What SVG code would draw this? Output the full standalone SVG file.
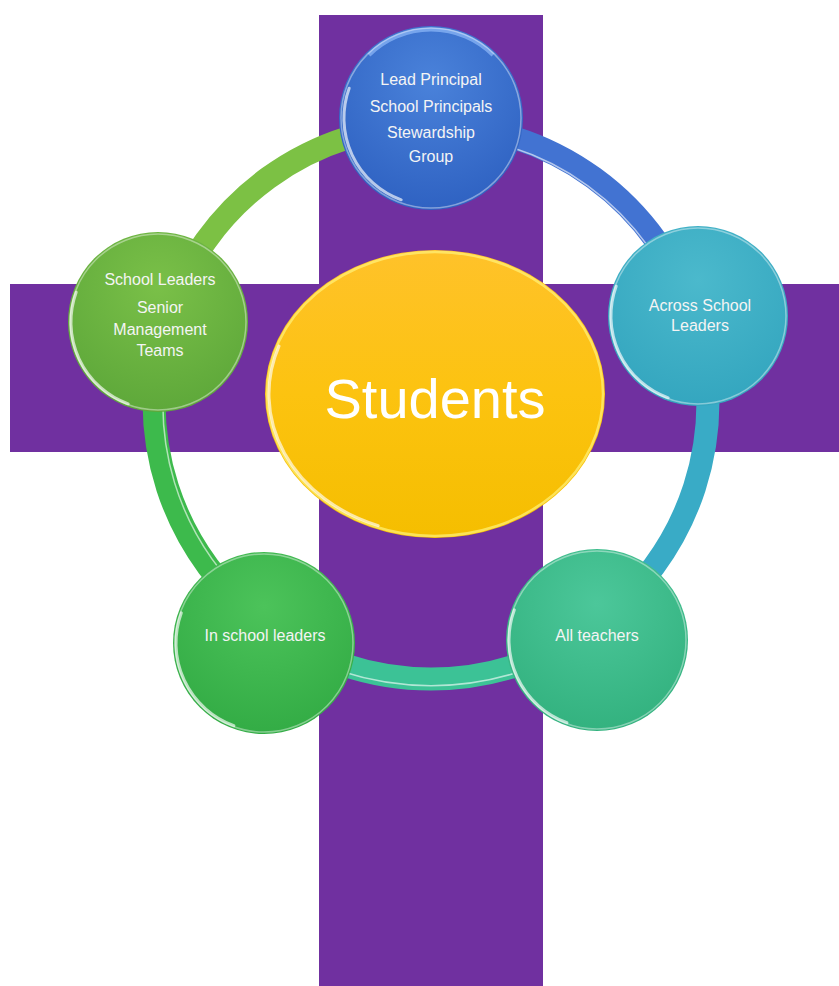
<svg xmlns="http://www.w3.org/2000/svg" width="839" height="986" viewBox="0 0 839 986">
<defs>
  <radialGradient id="gBlue" cx="50%" cy="30%" r="70%">
    <stop offset="0" stop-color="#4A82DA"/><stop offset="1" stop-color="#2F62C2"/>
  </radialGradient>
  <radialGradient id="gLeft" cx="50%" cy="30%" r="70%">
    <stop offset="0" stop-color="#7AC048"/><stop offset="1" stop-color="#5EA83A"/>
  </radialGradient>
  <radialGradient id="gRight" cx="50%" cy="30%" r="70%">
    <stop offset="0" stop-color="#4BB9CC"/><stop offset="1" stop-color="#34A6BF"/>
  </radialGradient>
  <radialGradient id="gBL" cx="50%" cy="30%" r="70%">
    <stop offset="0" stop-color="#4CC35A"/><stop offset="1" stop-color="#33AC45"/>
  </radialGradient>
  <radialGradient id="gBR" cx="50%" cy="30%" r="70%">
    <stop offset="0" stop-color="#4CC79A"/><stop offset="1" stop-color="#33B27F"/>
  </radialGradient>
  <linearGradient id="gGold" x1="0" y1="0" x2="0" y2="1">
    <stop offset="0" stop-color="#FFC22A"/><stop offset="0.5" stop-color="#FCC310"/><stop offset="1" stop-color="#F5BE00"/>
  </linearGradient>
</defs>
<style>
  .bar { fill: #7030A0; }
  .seg { fill: none; stroke-width: 23; }
  .hl { fill: none; stroke: #FFFFFF; stroke-width: 1.5; stroke-opacity: 0.6; }
  .rim { fill: none; stroke: #FFFFFF; stroke-opacity: 0.4; stroke-width: 1.5; }
  .shine { fill: none; stroke: #FFFFFF; stroke-opacity: 0.65; stroke-width: 3; stroke-linecap: round; }
  .lbl { font-family: "Liberation Sans", Arial, sans-serif; font-size: 16px; fill: #F4F4F4; text-anchor: middle; }
  .big { font-family: "Liberation Sans", Arial, sans-serif; font-size: 56px; fill: #FFFFFF; text-anchor: middle; }
</style>

<g id="cross">
  <rect class="bar" x="319" y="15" width="224" height="971"/>
  <rect class="bar" x="10" y="284" width="829" height="168"/>
</g>

<g id="connectors">
  <path class="seg" stroke="#7CC144" d="M 167.6 316.4 A 277 277 0 0 1 431 125"/>
  <path class="seg" stroke="#4273D2" d="M 431 125 A 277 277 0 0 1 694.4 316.4"/>
  <path class="seg" stroke="#39ABC6" d="M 694.4 316.4 A 277 277 0 0 1 593.8 626.1"/>
  <path class="seg" stroke="#3CC296" d="M 593.8 626.1 A 277 277 0 0 1 268.2 626.1"/>
  <path class="seg" stroke="#3DBA4C" d="M 268.2 626.1 A 277 277 0 0 1 167.6 316.4"/>
  <path class="hl" d="M 431 135 A 267 267 0 0 1 685 319"/>
  <path class="hl" d="M 268 617 A 267 267 0 0 1 177 319"/>
  <path class="hl" d="M 597 633 A 288 288 0 0 1 265 633"/>
</g>

<g id="node-students">
  <ellipse cx="435" cy="394" rx="170" ry="144" fill="url(#gGold)"/>
  <ellipse cx="435" cy="394" rx="168" ry="142" fill="none" stroke="#FFF27A" stroke-width="2.5" stroke-opacity="0.7"/>
  <path class="shine" d="M 378.2 525.6 A 166 140 0 0 1 279 346.1"/>
  <text class="big" x="435" y="418">Students</text>
</g>

<g id="node-top">
  <circle cx="431" cy="118" r="92" fill="url(#gBlue)"/>
  <path d="M 369 55 A 88 88 0 0 1 493 55" fill="none" stroke="#9CC4FF" stroke-width="4" stroke-opacity="0.6"/>
  <circle class="rim" cx="431" cy="118" r="90"/>
  <path class="shine" d="M 401.2 199.8 A 87 87 0 0 1 349.2 88.2"/>
  <text class="lbl" x="431" y="85">Lead Principal</text>
  <text class="lbl" x="431" y="112">School Principals</text>
  <text class="lbl" x="431" y="138">Stewardship</text>
  <text class="lbl" x="431" y="162">Group</text>
</g>

<g id="node-left">
  <circle cx="158" cy="322" r="90" fill="url(#gLeft)"/>
  <circle class="rim" cx="158" cy="322" r="88"/>
  <path class="shine" d="M 128.2 403.8 A 87 87 0 0 1 76.2 292.2"/>
  <text class="lbl" x="160" y="285">School Leaders</text>
  <text class="lbl" x="160" y="313">Senior</text>
  <text class="lbl" x="160" y="335">Management</text>
  <text class="lbl" x="160" y="356">Teams</text>
</g>

<g id="node-right">
  <circle cx="698" cy="316" r="90" fill="url(#gRight)"/>
  <circle class="rim" cx="698" cy="316" r="88"/>
  <path class="shine" d="M 668.2 397.8 A 87 87 0 0 1 616.2 286.2"/>
  <text class="lbl" x="700" y="311">Across School</text>
  <text class="lbl" x="700" y="331">Leaders</text>
</g>

<g id="node-bottom-left">
  <circle cx="264" cy="643" r="91" fill="url(#gBL)"/>
  <circle class="rim" cx="264" cy="643" r="89"/>
  <path class="shine" d="M 233.9 725.7 A 88 88 0 0 1 181.3 612.9"/>
  <text class="lbl" x="265" y="641">In school leaders</text>
</g>

<g id="node-bottom-right">
  <circle cx="597" cy="640" r="91" fill="url(#gBR)"/>
  <circle class="rim" cx="597" cy="640" r="89"/>
  <path class="shine" d="M 566.9 722.7 A 88 88 0 0 1 514.3 609.9"/>
  <text class="lbl" x="597" y="641">All teachers</text>
</g>
</svg>
